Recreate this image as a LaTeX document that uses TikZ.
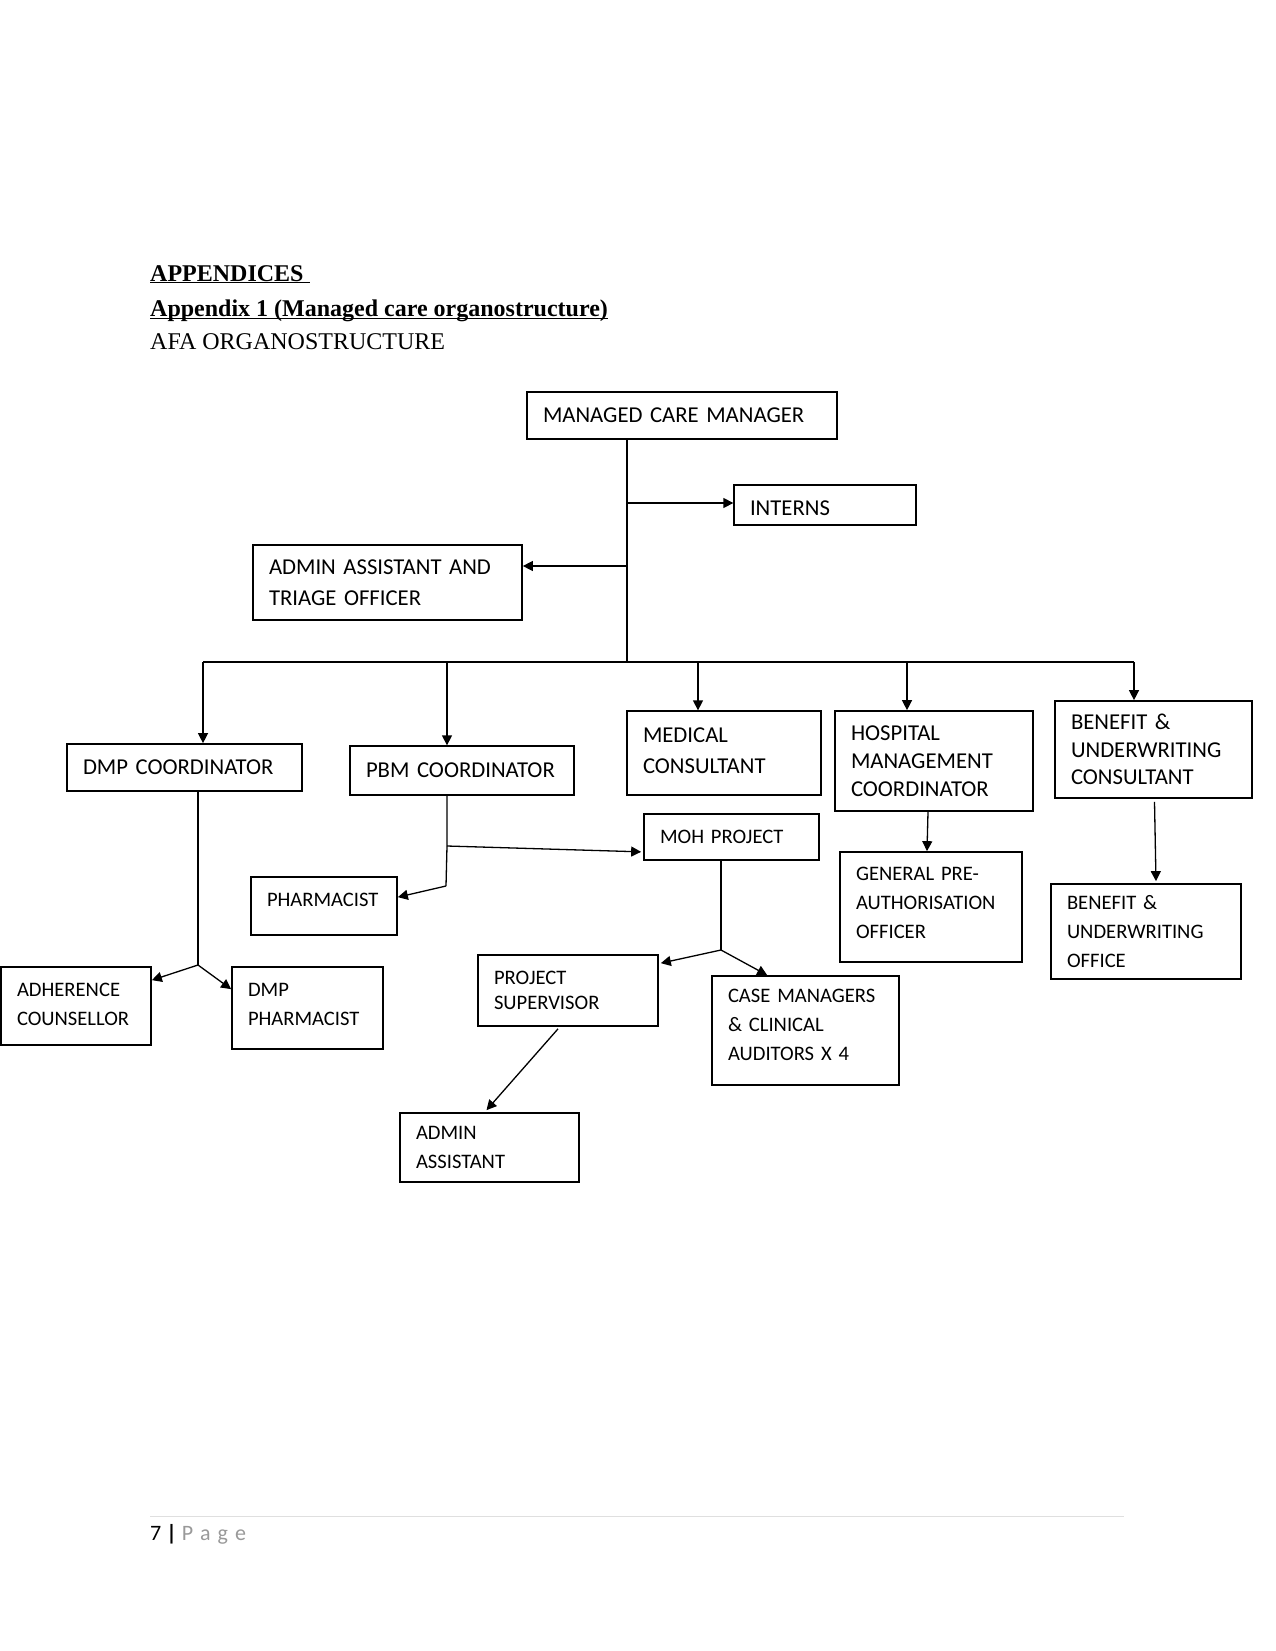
\documentclass[tikz,border=0pt]{standalone}
\usepackage{fontspec}
\setmainfont{Carlito}
\newfontfamily\headfont{Liberation Serif}
\usetikzlibrary{arrows.meta,calc}

\begin{document}
\begin{tikzpicture}[
    x=1pt, y=-1pt,
    box/.style={rectangle, draw=black, line width=1.7pt, align=left, inner xsep=16pt, inner ysep=0pt, font=\fontsize{22.7pt}{29pt}\selectfont},
    smallbox/.style={box, font=\fontsize{20.6pt}{29pt}\selectfont},
    link/.style={line width=1.3pt},
    arr/.style={link, -{Triangle[length=10pt, width=10pt]}},
    head/.style={anchor=base west, inner sep=0pt, font=\headfont\fontsize{24pt}{28pt}\selectfont}
  ]
    \useasboundingbox (0,0) rectangle (1275,1651);

    \node[head] (appx) at (150,281) {\textbf{\underline{APPENDICES\ }}};
    \node[head] (appone) at (150,316.5) {\textbf{\underline{\smash{Appendix 1 (Managed care organostructure)}}}};
    \node[head] (afa) at (150,349) {AFA ORGANOSTRUCTURE};

    \node[box, minimum width=310pt, minimum height=47pt, text width=278pt] (mcm) at (682,415.5) {MANAGED~CARE~MANAGER};
    \node[box, line width=1.3pt, minimum width=182pt, minimum height=40pt, text width=150pt, text height=22pt] (interns) at (825,505) {INTERNS};
    \node[box, minimum width=269pt, minimum height=75pt, text width=237pt, font=\fontsize{22.7pt}{31.5pt}\selectfont] (triage) at (387.5,582.5) {ADMIN~ASSISTANT~AND\\TRIAGE~OFFICER};

    \node[box, minimum width=235pt, minimum height=47pt, text width=203pt] (dmp) at (184.5,767.5) {DMP~COORDINATOR};
    \node[box, line width=1.3pt, minimum width=224pt, minimum height=49pt, text width=192pt] (pbm) at (462,770.5) {PBM~COORDINATOR};
    \node[box, line width=1.3pt, minimum width=194pt, minimum height=84pt, text width=162pt, text depth=35pt, font=\fontsize{22.7pt}{31pt}\selectfont] (medcons) at (724,753) {MEDICAL\\CONSULTANT};
    \node[box, minimum width=198pt, minimum height=100pt, text width=166pt, font=\fontsize{22.7pt}{28pt}\selectfont] (hosp) at (934,761) {HOSPITAL\\MANAGEMENT\\COORDINATOR};
    \node[box, minimum width=197pt, minimum height=97pt, text width=165pt, font=\fontsize{22.7pt}{27.5pt}\selectfont] (bcons) at (1153.5,749.5) {BENEFIT~\&\\UNDERWRITING\\CONSULTANT};

    \node[smallbox, minimum width=175pt, minimum height=46pt, text width=143pt] (moh) at (731.5,837) {MOH~PROJECT};
    \node[smallbox, minimum width=146pt, minimum height=58pt, text width=114pt, text depth=13pt] (pharm) at (324,906) {PHARMACIST};
    \node[smallbox, minimum width=182pt, minimum height=110pt, text width=150pt, text depth=66pt] (genpre) at (931,907) {GENERAL~PRE-\\AUTHORISATION\\OFFICER};
    \node[smallbox, minimum width=190pt, minimum height=95pt, text width=158pt] (boff) at (1146,931.5) {BENEFIT~\&\\UNDERWRITING\\OFFICE};

    \node[smallbox, minimum width=150pt, minimum height=78pt, text width=118pt, text depth=33pt] (adher) at (76,1006) {ADHERENCE\\COUNSELLOR};
    \node[smallbox, minimum width=151pt, minimum height=82pt, text width=119pt, text depth=37pt] (dmpph) at (307.5,1008) {DMP\\PHARMACIST};
    \node[smallbox, minimum width=180pt, minimum height=71pt, text width=148pt, font=\fontsize{20.6pt}{25pt}\selectfont] (projsup) at (568,990.5) {PROJECT\\SUPERVISOR};
    \node[smallbox, minimum width=187pt, minimum height=109pt, text width=155pt, text depth=69pt] (casem) at (805.5,1030.5) {CASE~MANAGERS\\\&~CLINICAL\\AUDITORS~X~4};
    \node[smallbox, minimum width=179pt, minimum height=69pt, text width=147pt] (adminasst) at (489.5,1147.5) {ADMIN\\ASSISTANT};

    \coordinate (jint) at (628,503);
    \coordinate (jtri) at (627,566);
    \coordinate (jbus) at (627,662);
    \coordinate (busl) at (203,662);
    \coordinate (busr) at (1134,662);
    \coordinate (bpbm) at (447,662);
    \coordinate (bmed) at (698,662);
    \coordinate (bhosp) at (907,662);
    \coordinate (jdmp) at (198,965);
    \coordinate (jmoh) at (447,846);
    \coordinate (jpbm) at (446,886);
    \coordinate (jcase) at (721,950);

    \draw[link] (jbus |- mcm.south) -- (jbus);
    \draw[arr] (jint) -- (jint -| interns.west);
    \draw[arr] (jtri) -- (jtri -| triage.east);
    \draw[link] (busl) -- (busr);
    \draw[arr] (busl) -- (busl |- dmp.north);
    \draw[arr] (bpbm) -- (bpbm |- pbm.north);
    \draw[arr] (bmed) -- (bmed |- medcons.north);
    \draw[arr] (bhosp) -- (bhosp |- hosp.north);
    \draw[arr] (busr) -- (busr |- bcons.north);

    \draw[link] (jdmp |- dmp.south) -- (jdmp);
    \draw[arr] (jdmp) -- ($(adher.north east)+(0,14)$);
    \draw[arr] (jdmp) -- ($(dmpph.north west)+(0,23)$);

    \draw[link] (jmoh |- pbm.south) -- (jmoh) -- (jpbm);
    \draw[arr] (jpbm) -- ($(pharm.north east)+(0,21)$);
    \draw[arr] (jmoh) -- ($(moh.south west)+(-2,-9)$);

    \draw[link] (jcase |- moh.south) -- (jcase);
    \draw[arr] (jcase) -- ($(projsup.north east)+(2,9)$);
    \draw[arr] (jcase) -- ($(casem.north west)+(56,0)$);

    \draw[arr] ($(hosp.south)+(-6,0)$) -- ($(genpre.north)+(-4,0)$);
    \draw[arr] ($(bcons.south)+(1,3)$) -- ($(boff.north)+(10,-2)$);
    \draw[arr] ($(projsup.south)+(-10,2)$) -- ($(adminasst.north)+(-3,-2)$);

    \draw[gray!25, line width=1pt] (150,1516) -- (1124,1516);
    \node[anchor=west, inner sep=0pt, font=\fontsize{22pt}{26pt}\selectfont] (pgno) at (150,1534) {7 \textbf{|} \textcolor{gray!80}{P\kern7pt a\kern7pt g\kern7pt e}};
  \end{tikzpicture}
\end{document}
